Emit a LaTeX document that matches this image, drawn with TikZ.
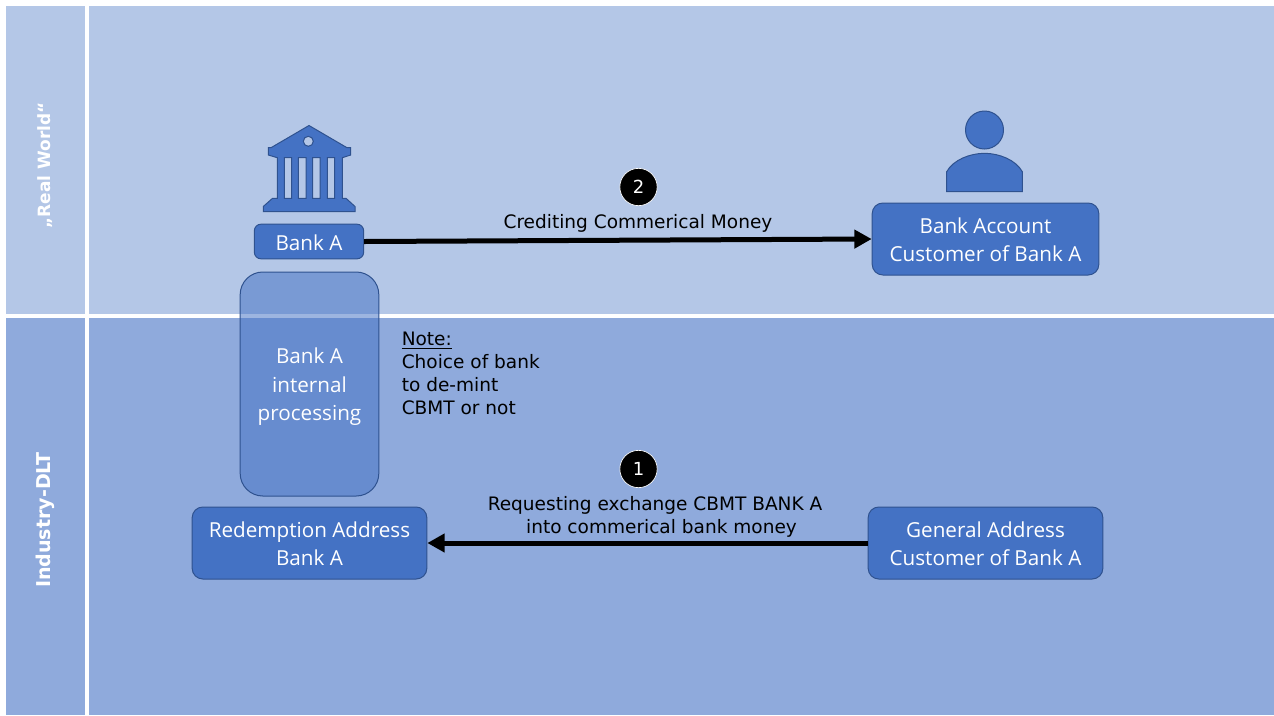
\documentclass[tikz,border=0pt]{standalone}
\usepackage{fontspec}
\setmainfont{Open Sans}
\newfontfamily\verd{DejaVu Sans}
\usetikzlibrary{arrows.meta}
\definecolor{bandtop}{HTML}{B4C7E7}
\definecolor{bandlow}{HTML}{8FAADC}
\definecolor{boxblue}{HTML}{4472C4}
\definecolor{boxedge}{HTML}{2F528F}
\tikzset{
  px/.style={x=0.75pt,y=-0.75pt},
  band/.style={inner sep=0pt,outer sep=0pt,anchor=north west},
  blue box/.style={draw=boxedge,line width=0.75pt,fill=boxblue,rounded corners=8pt,text=white,align=center,inner sep=0pt,font=\fontsize{15.5}{21.5}\selectfont},
  glass box/.style={blue box,fill opacity=0.52,text opacity=1,rounded corners=17pt},
  icon/.style={draw=boxedge,line width=0.75pt,fill=boxblue},
  band label/.style={rotate=90,text=white,font=\verd\bfseries\fontsize{12.7}{15}\selectfont},
  caption/.style={text=black,align=center,inner sep=0pt,font=\verd\fontsize{13.9}{17.2}\selectfont},
  flow/.style={-{Triangle[length=13pt,width=13.5pt]},line width=3.75pt,black},
  badge/.style={circle,draw=white,line width=0.5pt,fill=black,text=white,minimum size=28pt,inner sep=0pt,font=\verd\fontsize{13.5}{16}\selectfont}
}
\begin{document}
\begin{tikzpicture}[px]
\useasboundingbox (0,0) rectangle (1274,715);
\fill[white] (0,0) rectangle (1274,715);
% bands
\node[band,fill=bandtop,minimum width=59.25pt,minimum height=231pt] (leftTop) at (6,6) {};
\node[band,fill=bandtop,minimum width=889pt,minimum height=231pt] (mainTop) at (89,6) {};
\node[band,fill=bandlow,minimum width=59.25pt,minimum height=297.75pt] (leftLow) at (6,318) {};
\node[band,fill=bandlow,minimum width=889pt,minimum height=297.75pt] (mainLow) at (89,318) {};
\node[band label] (realLabel) at (45,165.5) {„Real World“};
\node[band label,font=\verd\bfseries\fontsize{14.3}{15}\selectfont] (dltLabel) at (45,520) {Industry-DLT};
% bank icon
\path[icon,even odd rule] (309,125.5) -- (347,147.7) -- (350.7,147.7) -- (350.7,155) -- (342.3,157.7) -- (342.3,198.3) -- (346,198.3) -- (355,206.5) -- (355,211.7) -- (263.3,211.7) -- (263.3,206.5) -- (272.5,198.3) -- (277.3,198.3) -- (277.3,157.7) -- (268.3,155) -- (268.3,147.7) -- (271,147.7) -- cycle
  (284.3,157.7) rectangle (291.7,198.3)
  (298.3,157.7) rectangle (306,198.3)
  (312.7,157.7) rectangle (320,198.3)
  (327.3,157.7) rectangle (334.7,198.3)
  (308.3,141.3) circle[radius=5];
% person icon
\path[icon] (984.5,130) circle[radius=19];
\path[icon] (946.7,191.7) -- (946.7,171.7) .. controls (953,160) and (970,153.3) .. (984.5,153.3) .. controls (999,153.3) and (1016,160) .. (1022.3,171.7) -- (1022.3,191.7) -- cycle;
% boxes
\node[glass box,minimum width=104pt,minimum height=168pt] (internal) at (309.5,384) {\rule{0pt}{16pt}Bank A\\internal\\processing};
\node[blue box,rounded corners=5pt,minimum width=82pt,minimum height=26pt] (bankA) at (309,241.5) {\rule{0pt}{13pt}Bank A};
\node[blue box,minimum width=170pt,minimum height=54pt] (account) at (985.5,239) {\rule{0pt}{13pt}Bank Account\\Customer of Bank A};
\node[blue box,minimum width=176pt,minimum height=54pt] (redemption) at (309.5,543) {\rule{0pt}{13pt}Redemption Address\\Bank A};
\node[blue box,minimum width=176pt,minimum height=54pt] (general) at (985.5,543) {\rule{0pt}{13pt}General Address\\Customer of Bank A};
% connectors
\draw[flow] (bankA.east) -- (account.west);
\draw[flow] (general.west) -- (redemption.east);
% badges
\node[badge] (two) at (638.5,187) {2};
\node[badge] (one) at (638.5,469) {1};
% captions
\node[caption] (capTwo) at (638,223) {Crediting Commerical Money};
\node[caption] (capOne) at (655,516.5) {Requesting exchange CBMT BANK A\\\hspace*{9.75pt}into commerical bank money};
\node[caption,align=left,anchor=north west] (note) at (401.5,332) {\underline{Note:}\\Choice of bank\\to de-mint\\CBMT or not};
\end{tikzpicture}
\end{document}
